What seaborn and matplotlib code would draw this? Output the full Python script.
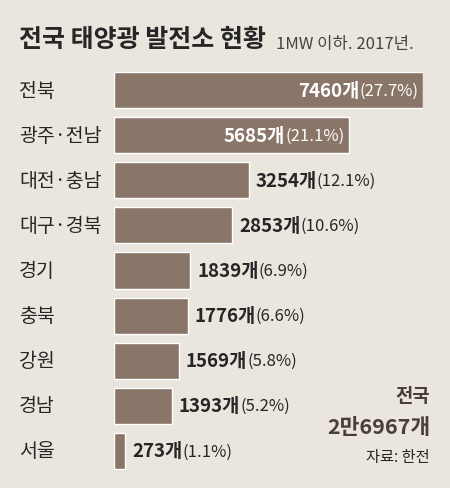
import matplotlib
matplotlib.use('Agg')
import matplotlib.pyplot as plt
import matplotlib.transforms as mtransforms
import seaborn as sns
import pandas as pd

regions = ['전북', '광주·전남', '대전·충남', '대구·경북', '경기', '충북', '강원', '경남', '서울']
counts = [7460, 5685, 3254, 2853, 1839, 1776, 1569, 1393, 273]
shares = [27.7, 21.1, 12.1, 10.6, 6.9, 6.6, 5.8, 5.2, 1.1]

bg = '#ebe6dd'
bar_color = '#8a7668'
ink = '#262626'

sns.set_theme(style='white')
plt.rcParams['font.family'] = ['Noto Sans CJK KR', 'DejaVu Sans']

df = pd.DataFrame({'region': regions, 'count': counts})

fig = plt.figure(figsize=(4.5, 4.89), dpi=100, facecolor=bg)
ax = fig.add_axes([114 / 450, 0.0298, 309 / 450, 0.830])
ax.set_facecolor(bg)
sns.barplot(data=df, x='count', y='region', color=bar_color, saturation=1,
            width=0.8, ax=ax)
ax.set_xlim(0, max(counts))
ax.set_ylim(8.5, -0.5)
for s in ax.spines.values():
    s.set_visible(False)
ax.set_xticks([])
ax.set_yticks([])
ax.set_xlabel('')
ax.set_ylabel('')

# category names on the left
trans = mtransforms.blended_transform_factory(fig.transFigure, ax.transData)
for i, r in enumerate(regions):
    ax.text(19 / 450, i, r, transform=trans, ha='left', va='center',
            fontsize=14, color=ink, clip_on=False)

# value labels
for i, (c, p) in enumerate(zip(counts, shares)):
    if c > 5000:
        t = ax.annotate(f'({p}%)', xy=(c, i), xytext=(-3.5, 0),
                        textcoords='offset points', ha='right', va='center',
                        fontsize=12, color='white')
        ax.annotate(f'{c}개', xy=(0, 0.5), xycoords=t, ha='right',
                    va='center', fontsize=13.5, fontweight='bold',
                    color='white')
    else:
        t = ax.annotate(f'{c}개', xy=(c, i), xytext=(5, 0),
                        textcoords='offset points', ha='left', va='center',
                        fontsize=13.5, fontweight='bold', color=ink)
        ax.annotate(f'({p}%)', xy=(1, 0.5), xycoords=t, ha='left',
                    va='center', fontsize=12, color=ink)

# title
title = fig.text(19 / 450, 1 - 40 / 489, '전국 태양광 발전소 현황',
                 fontsize=18, fontweight='bold', color=ink,
                 ha='left', va='center')
fig.text(276 / 450, 1 - 44 / 489, '1MW 이하. 2017년.', fontsize=12,
         color='#444444', ha='left', va='center')

# total and source
fig.text(430 / 450, 1 - 397 / 489, '전국', fontsize=13.5, fontweight='bold',
         color='#4a3f38', ha='right', va='center')
fig.text(430 / 450, 1 - 428 / 489, '2만6967개', fontsize=15.5, fontweight='bold',
         color='#4a3f38', ha='right', va='center')
fig.text(430 / 450, 1 - 458 / 489, '자료: 한전', fontsize=11,
         color=ink, ha='right', va='center')

fig.savefig('out.png', dpi=100, facecolor=bg)
